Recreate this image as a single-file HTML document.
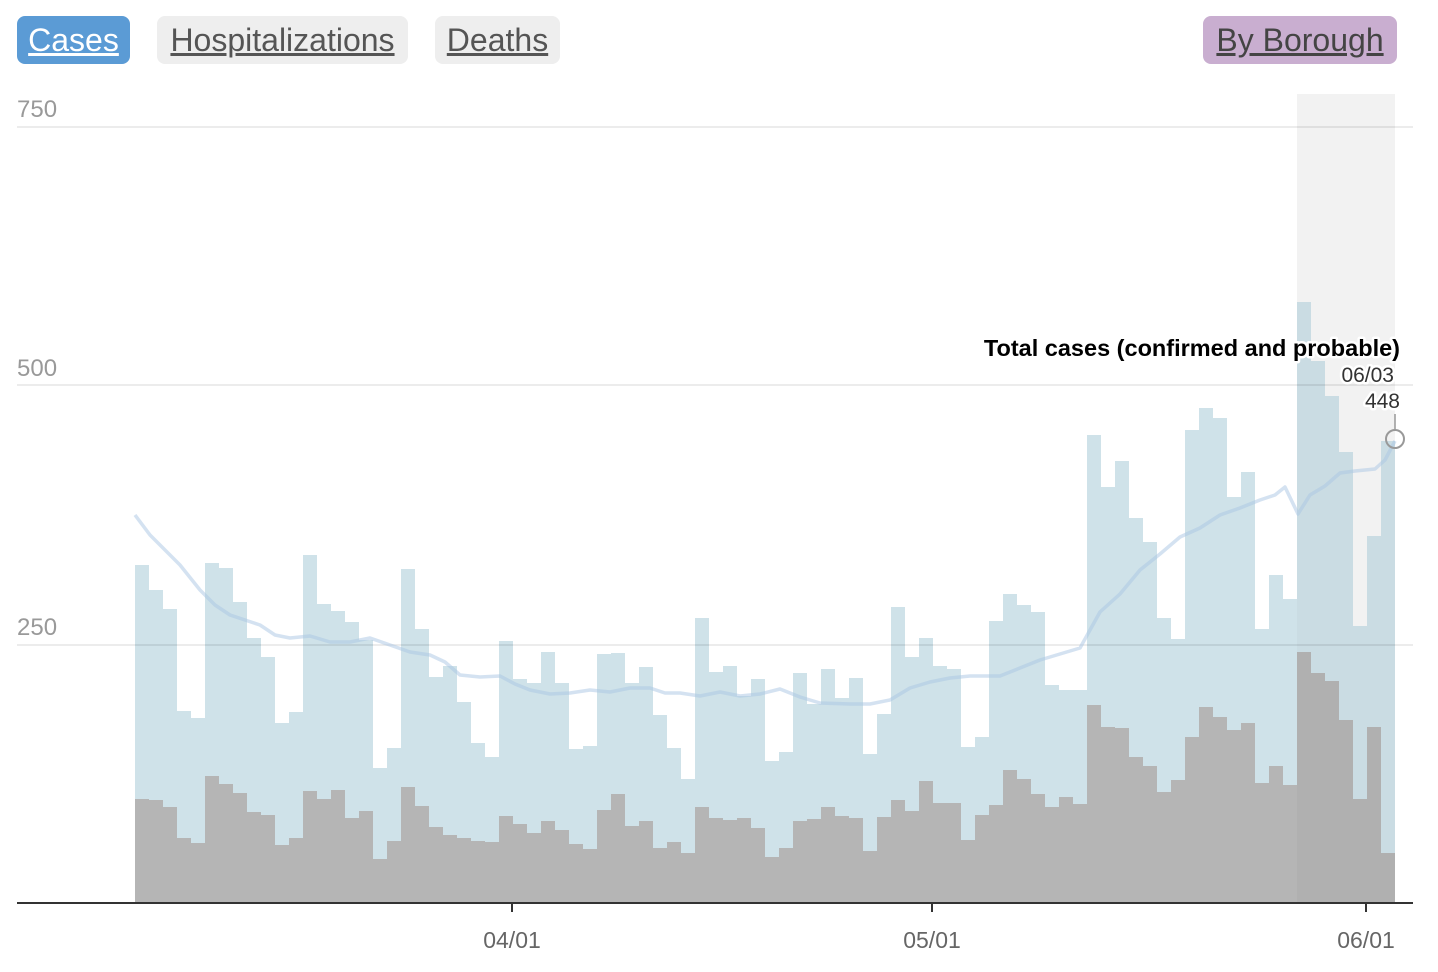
<!DOCTYPE html>
<html><head><meta charset="utf-8"><style>
body{margin:0;background:#fff;width:1438px;height:972px;overflow:hidden;font-family:"Liberation Sans",Arial,sans-serif}
.btn{position:absolute;top:16px;height:48px;border-radius:8px;font-size:32px;line-height:48px;text-align:center;text-decoration:underline;color:#555}
</style></head><body>
<div class="btn" style="left:17px;width:113px;background:#5b9bd5;color:#fff">Cases</div>
<div class="btn" style="left:157px;width:251px;background:#eee">Hospitalizations</div>
<div class="btn" style="left:435px;width:125px;background:#eee">Deaths</div>
<div class="btn" style="left:1203px;width:194px;background:#c9aed0;color:#444">By Borough</div>
<svg width="1438" height="972" style="position:absolute;left:0;top:0" font-family="Liberation Sans, Arial, sans-serif">
<rect x="1297" y="94" width="98" height="809" fill="#f8f8f8"/>
<path fill="#cfe2e9" d="M135 903 V565 H149 V590 H163 V609 H177 V711 H191 V718 H205 V563 H219 V568 H233 V602 H247 V638 H261 V657 H275 V723 H289 V712 H303 V555 H317 V604 H331 V611 H345 V622 H359 V640 H373 V768 H387 V748 H401 V569 H415 V629 H429 V677 H443 V666 H457 V702 H471 V743 H485 V757 H499 V641 H513 V679 H527 V683 H541 V652 H555 V683 H569 V749 H583 V746 H597 V654 H611 V653 H625 V683 H639 V667 H653 V715 H667 V748 H681 V779 H695 V618 H709 V672 H723 V666 H737 V696 H751 V679 H765 V761 H779 V752 H793 V673 H807 V704 H821 V669 H835 V698 H849 V678 H863 V754 H877 V714 H891 V607 H905 V657 H919 V638 H933 V666 H947 V669 H961 V747 H975 V737 H989 V621 H1003 V594 H1017 V605 H1031 V612 H1045 V685 H1059 V690 H1073 V690 H1087 V435 H1101 V487 H1115 V461 H1129 V518 H1143 V542 H1157 V618 H1171 V639 H1185 V430 H1199 V408 H1213 V418 H1227 V497 H1241 V472 H1255 V629 H1269 V575 H1283 V599 H1297 V302 H1311 V361 H1325 V396 H1339 V452 H1353 V626 H1367 V536 H1381 V441 H1395 V903 Z"/>
<path fill="#b5b5b5" d="M135 903 V799 H149 V800 H163 V807 H177 V838 H191 V843 H205 V776 H219 V784 H233 V793 H247 V812 H261 V815 H275 V845 H289 V838 H303 V791 H317 V799 H331 V790 H345 V818 H359 V811 H373 V859 H387 V841 H401 V787 H415 V806 H429 V827 H443 V835 H457 V838 H471 V841 H485 V842 H499 V816 H513 V824 H527 V833 H541 V821 H555 V830 H569 V844 H583 V849 H597 V810 H611 V794 H625 V826 H639 V821 H653 V848 H667 V842 H681 V853 H695 V807 H709 V818 H723 V820 H737 V818 H751 V828 H765 V857 H779 V848 H793 V821 H807 V819 H821 V807 H835 V816 H849 V818 H863 V851 H877 V817 H891 V800 H905 V811 H919 V781 H933 V803 H947 V803 H961 V840 H975 V815 H989 V805 H1003 V770 H1017 V779 H1031 V794 H1045 V807 H1059 V797 H1073 V804 H1087 V705 H1101 V727 H1115 V728 H1129 V757 H1143 V766 H1157 V792 H1171 V780 H1185 V737 H1199 V707 H1213 V717 H1227 V730 H1241 V723 H1255 V783 H1269 V766 H1283 V785 H1297 V652 H1311 V673 H1325 V681 H1339 V720 H1353 V799 H1367 V727 H1381 V853 H1395 V903 Z"/>
<rect x="1297" y="94" width="98" height="809" fill="#000" opacity="0.025"/>
<g stroke="#000" stroke-opacity="0.1" stroke-width="1.5">
<line x1="17" y1="127" x2="1413" y2="127"/><line x1="17" y1="385" x2="1413" y2="385"/><line x1="17" y1="645" x2="1413" y2="645"/>
</g>
<g fill="#999" font-size="24"><text x="17" y="117">750</text><text x="17" y="376">500</text><text x="17" y="635">250</text></g>
<polyline fill="none" stroke="#a9c6e3" stroke-opacity="0.5" stroke-width="3.5" stroke-linejoin="round" points="135,515 150,535 165,550 180,565 200,590 215,605 230,615 245,620 260,625 275,635 290,638 310,636 330,642 350,642 370,638 390,645 410,652 430,655 445,662 460,675 480,677 500,676 515,684 530,690 550,694 570,693 590,690 610,692 630,688 650,688 665,693 680,693 700,696 720,692 740,696 760,694 780,689 800,697 820,703 850,704 870,704 890,700 910,688 930,682 950,678 970,676 1000,676 1020,668 1040,660 1060,654 1080,648 1100,612 1120,594 1140,570 1160,554 1180,537 1200,528 1220,515 1240,508 1260,500 1275,495 1285,487 1298,514 1310,495 1325,486 1340,473 1355,471 1375,469 1385,460 1395,441"/>
<line x1="17" y1="903" x2="1413" y2="903" stroke="#333" stroke-width="2"/>
<g stroke="#333" stroke-width="2"><line x1="512" y1="903" x2="512" y2="912"/><line x1="932" y1="903" x2="932" y2="912"/><line x1="1366" y1="903" x2="1366" y2="912"/></g>
<g fill="#666" font-size="23" text-anchor="middle"><text x="512" y="948">04/01</text><text x="932" y="948">05/01</text><text x="1366" y="948">06/01</text></g>
<line x1="1395" y1="414" x2="1395" y2="430" stroke="#999" stroke-width="1.5"/>
<circle cx="1395" cy="439" r="9" fill="none" stroke="#999" stroke-width="2"/>
<g text-anchor="end" stroke="#fff" stroke-width="5" paint-order="stroke" stroke-linejoin="round">
<text x="1400" y="356" font-size="23.5" font-weight="bold" fill="#000">Total cases (confirmed and probable)</text>
<text x="1394" y="382" font-size="21" fill="#333">06/03</text>
<text x="1400" y="408" font-size="21" fill="#333">448</text>
</g>
</svg>
</body></html>
